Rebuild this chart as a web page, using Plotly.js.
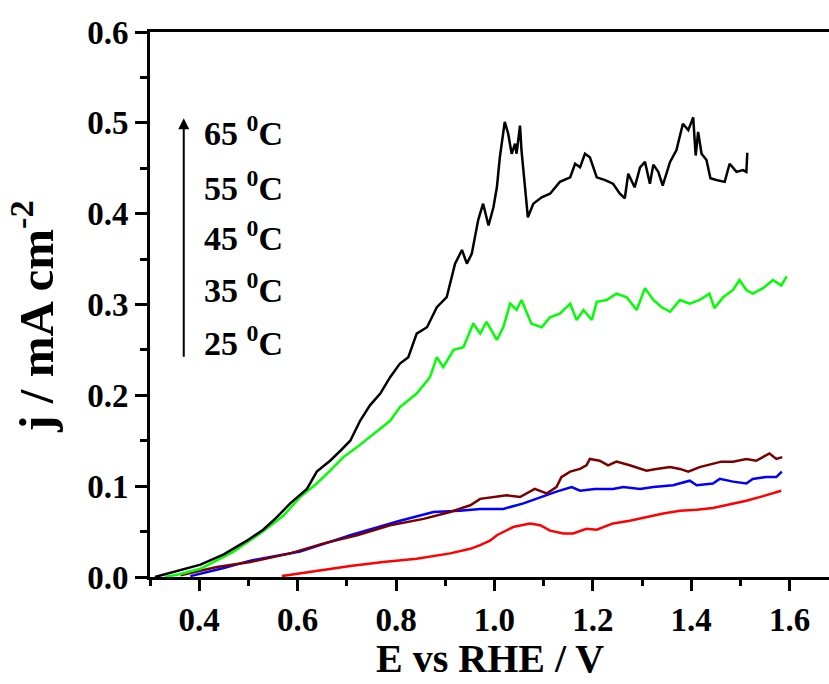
<!DOCTYPE html>
<html>
<head>
<meta charset="utf-8">
<script src="https://cdn.plot.ly/plotly-3.0.1.min.js"></script>
<style>html,body{margin:0;padding:0;background:#fff;}#chart{width:829px;height:684px;}</style>
</head>
<body>
<div id="chart"></div>
<script>
// 65 °C (black)
const x65 = [0.31,0.35,0.4026,0.45,0.497,0.53,0.558,0.585,0.619,0.639,0.666,0.687,0.707,0.727,0.747,0.768,0.788,0.808,0.825,0.842,0.863,0.883,0.903,0.920,0.934,0.944,0.954,0.967,0.977,0.988,0.998,1.005,1.011,1.021,1.028,1.035,1.042,1.045,1.052,1.055,1.062,1.068,1.079,1.096,1.113,1.133,1.154,1.164,1.174,1.184,1.194,1.208,1.225,1.241,1.255,1.265,1.272,1.285,1.296,1.306,1.316,1.323,1.333,1.342,1.357,1.370,1.383,1.394,1.404,1.409,1.414,1.421,1.431,1.439,1.451,1.468,1.478,1.492,1.505,1.512,1.514];
const j65 = [0.0,0.006,0.0136,0.025,0.040,0.052,0.066,0.081,0.097,0.116,0.128,0.139,0.150,0.172,0.189,0.202,0.220,0.235,0.242,0.268,0.275,0.297,0.308,0.345,0.360,0.345,0.356,0.393,0.411,0.387,0.407,0.429,0.462,0.501,0.488,0.466,0.477,0.466,0.497,0.470,0.429,0.396,0.411,0.418,0.422,0.435,0.440,0.455,0.451,0.466,0.462,0.440,0.437,0.433,0.422,0.417,0.444,0.429,0.451,0.457,0.433,0.454,0.446,0.431,0.457,0.470,0.499,0.492,0.506,0.464,0.490,0.466,0.459,0.439,0.437,0.435,0.455,0.446,0.448,0.446,0.467];
// 55 °C (green)
const x55 = [0.33,0.36,0.4026,0.470,0.524,0.572,0.605,0.639,0.666,0.693,0.721,0.761,0.788,0.808,0.842,0.869,0.883,0.896,0.917,0.937,0.957,0.971,0.984,1.005,1.018,1.032,1.045,1.055,1.075,1.096,1.113,1.133,1.154,1.167,1.181,1.198,1.208,1.228,1.248,1.269,1.289,1.306,1.323,1.340,1.357,1.377,1.397,1.417,1.437,1.447,1.465,1.485,1.498,1.512,1.525,1.546,1.566,1.583,1.594];
const j55 = [0.0,0.003,0.009,0.028,0.048,0.068,0.088,0.103,0.117,0.132,0.143,0.160,0.172,0.187,0.202,0.220,0.242,0.231,0.250,0.253,0.279,0.268,0.281,0.261,0.275,0.301,0.294,0.305,0.279,0.275,0.286,0.290,0.301,0.283,0.294,0.283,0.303,0.305,0.312,0.308,0.294,0.318,0.305,0.297,0.292,0.305,0.301,0.305,0.312,0.296,0.308,0.316,0.327,0.316,0.312,0.318,0.327,0.321,0.331];
// 45 °C (dark red)
const x45 = [0.362,0.436,0.504,0.585,0.653,0.721,0.788,0.856,0.910,0.951,0.971,0.998,1.025,1.052,1.082,1.106,1.126,1.136,1.154,1.174,1.187,1.194,1.214,1.231,1.248,1.275,1.309,1.329,1.357,1.377,1.394,1.417,1.444,1.461,1.485,1.512,1.532,1.559,1.573,1.585];
const j45 = [0.002,0.011,0.0165,0.026,0.037,0.046,0.057,0.064,0.0716,0.079,0.086,0.088,0.090,0.088,0.097,0.092,0.099,0.110,0.116,0.119,0.123,0.130,0.128,0.123,0.127,0.123,0.117,0.119,0.121,0.119,0.116,0.121,0.125,0.127,0.127,0.130,0.128,0.136,0.130,0.132];
// 35 °C (blue)
const x35 = [0.382,0.45,0.504,0.605,0.707,0.774,0.808,0.876,0.930,0.971,1.018,1.059,1.093,1.126,1.157,1.174,1.204,1.241,1.262,1.296,1.323,1.363,1.397,1.411,1.444,1.458,1.485,1.512,1.525,1.552,1.573,1.584];
const j35 = [0.001,0.010,0.018,0.028,0.046,0.057,0.062,0.0716,0.073,0.075,0.075,0.081,0.088,0.094,0.099,0.095,0.097,0.097,0.099,0.097,0.099,0.101,0.106,0.101,0.103,0.108,0.105,0.103,0.108,0.110,0.110,0.116];
// 25 °C (red)
const x25 = [0.568,0.639,0.707,0.774,0.842,0.910,0.951,0.971,0.991,1.005,1.038,1.072,1.093,1.113,1.140,1.160,1.187,1.208,1.241,1.275,1.309,1.343,1.377,1.411,1.444,1.478,1.512,1.546,1.583];
const j25 = [0.001,0.007,0.012,0.0165,0.020,0.026,0.031,0.035,0.040,0.046,0.055,0.059,0.057,0.051,0.048,0.048,0.053,0.052,0.059,0.062,0.066,0.070,0.073,0.074,0.076,0.080,0.084,0.089,0.095];

const labels = ['65 <sup>0</sup>C','55 <sup>0</sup>C','45 <sup>0</sup>C','35 <sup>0</sup>C','25 <sup>0</sup>C'];
const labelY = [0.4905,0.431,0.3749,0.3177,0.2593];
const xTitle = 'E vs RHE / V';
const yTitle = 'j / mA cm<sup>-2</sup>';

const series = [
  {name:'25 °C', x:x25, y:j25, color:'#ff0000'},
  {name:'35 °C', x:x35, y:j35, color:'#0000ff'},
  {name:'45 °C', x:x45, y:j45, color:'#7a0000'},
  {name:'55 °C', x:x55, y:j55, color:'#00ff00'},
  {name:'65 °C', x:x65, y:j65, color:'#000000'}
];
const traces = series.map(s => ({type:'scatter', mode:'lines', name:s.name, x:s.x, y:s.y, line:{color:s.color, width:2.5}}));

const font = {family:'Liberation Serif, Times New Roman, serif', color:'#000', weight:'bold'};
const annotations = labels.map((t,i) => ({x:0.4066, y:labelY[i], xref:'x', yref:'y', text:t, showarrow:false, xanchor:'left', yanchor:'middle', font:Object.assign({}, font, {size:34})}));
annotations.push({x:0.3686, y:0.505, ax:0.3686, ay:0.2408, xref:'x', yref:'y', axref:'x', ayref:'y', text:'', showarrow:true, arrowhead:2, arrowsize:1.1, arrowwidth:2, arrowcolor:'#000'});
annotations.push({xref:'paper', yref:'paper', x:-0.172, y:0.478, text:yTitle, textangle:-90, showarrow:false, xanchor:'center', yanchor:'middle', font:Object.assign({}, font, {size:49})});
annotations.push({xref:'paper', yref:'paper', x:0.5, y:-0.15, text:xTitle, showarrow:false, xanchor:'center', yanchor:'middle', font:Object.assign({}, font, {size:40})});

const layout = {
  width:829, height:684,
  margin:{l:150, r:0, t:32, b:107},
  paper_bgcolor:'#fff', plot_bgcolor:'#fff',
  showlegend:false,
  font:font,
  xaxis:{range:[0.3,1.68], tick0:0.4, dtick:0.2, tickformat:'.1f', showgrid:false, zeroline:false,
    showline:true, linecolor:'#000', linewidth:3, mirror:true, ticks:'outside', ticklen:11, tickwidth:3, tickcolor:'#000',
    tickfont:Object.assign({}, font, {size:33}),
    minor:{dtick:0.1, ticks:'outside', ticklen:6, tickwidth:3, tickcolor:'#000', showgrid:false}},
  yaxis:{range:[0,0.6], tick0:0, dtick:0.1, tickformat:'.1f', showgrid:false, zeroline:false,
    showline:true, linecolor:'#000', linewidth:3, ticks:'outside', ticklen:12, tickwidth:3, tickcolor:'#000',
    tickfont:Object.assign({}, font, {size:33}),
    minor:{dtick:0.05, ticks:'outside', ticklen:7, tickwidth:3, tickcolor:'#000', showgrid:false}},
  annotations:annotations
};
Plotly.newPlot('chart', traces, layout, {displayModeBar:false, staticPlot:true});
</script>
</body>
</html>
